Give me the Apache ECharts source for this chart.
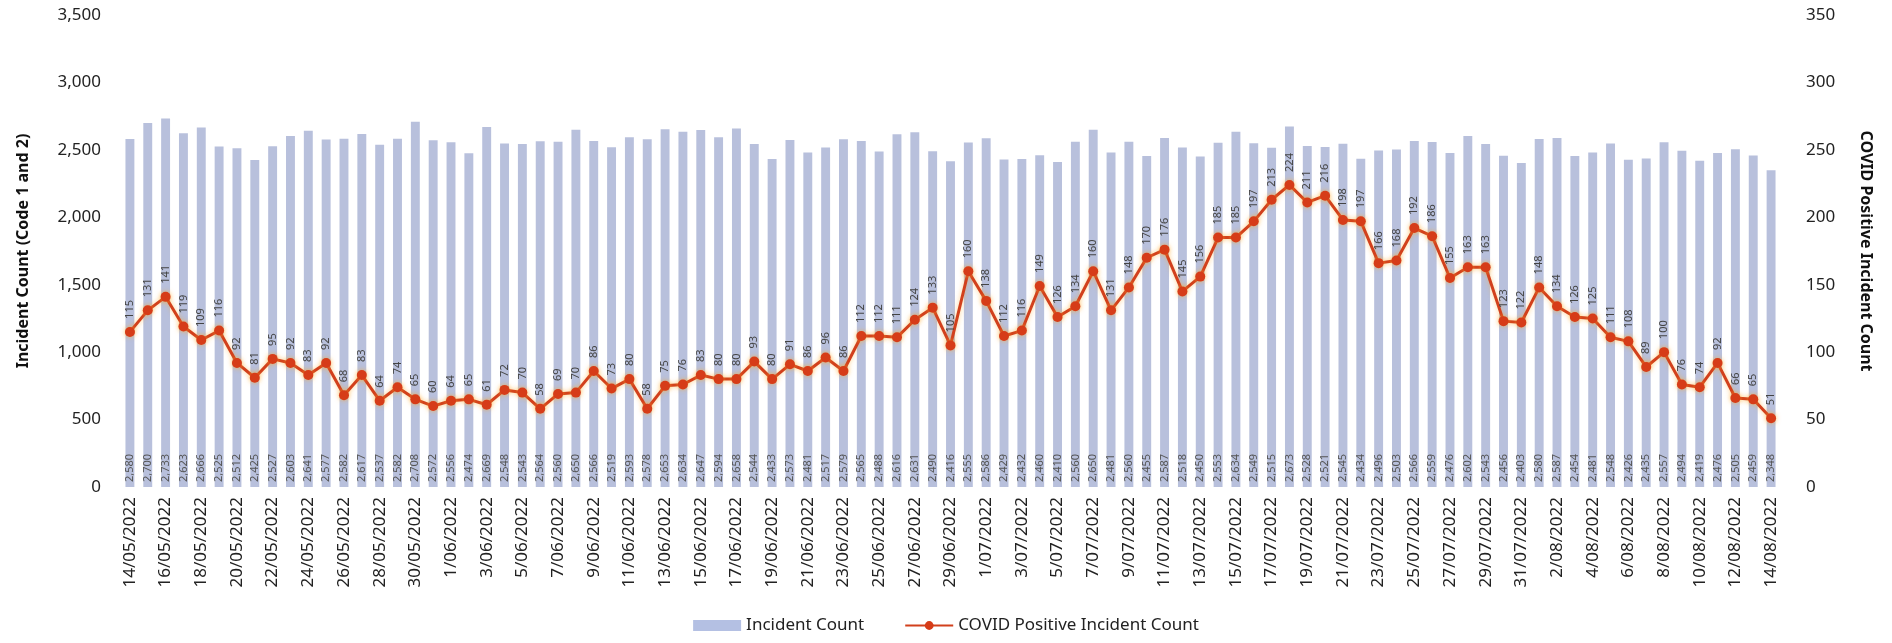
<!DOCTYPE html>
<html>
<head>
<meta charset="utf-8">
<title>Incident Count</title>
<script src="https://cdn.jsdelivr.net/npm/echarts@6/dist/echarts.min.js"></script>
<style>
    html, body { margin: 0; padding: 0; background: #fff; }
    #main { width: 1892px; height: 643px; }
</style>
</head>
<body>
<div id="main"></div>
<script>
// 日期 14/05/2022 - 14/08/2022
var dates = [
    '14/05/2022','15/05/2022','16/05/2022','17/05/2022','18/05/2022','19/05/2022','20/05/2022','21/05/2022','22/05/2022','23/05/2022',
    '24/05/2022','25/05/2022','26/05/2022','27/05/2022','28/05/2022','29/05/2022','30/05/2022','31/05/2022',
    '1/06/2022','2/06/2022','3/06/2022','4/06/2022','5/06/2022','6/06/2022','7/06/2022','8/06/2022','9/06/2022','10/06/2022',
    '11/06/2022','12/06/2022','13/06/2022','14/06/2022','15/06/2022','16/06/2022','17/06/2022','18/06/2022','19/06/2022','20/06/2022',
    '21/06/2022','22/06/2022','23/06/2022','24/06/2022','25/06/2022','26/06/2022','27/06/2022','28/06/2022','29/06/2022','30/06/2022',
    '1/07/2022','2/07/2022','3/07/2022','4/07/2022','5/07/2022','6/07/2022','7/07/2022','8/07/2022','9/07/2022','10/07/2022',
    '11/07/2022','12/07/2022','13/07/2022','14/07/2022','15/07/2022','16/07/2022','17/07/2022','18/07/2022','19/07/2022','20/07/2022',
    '21/07/2022','22/07/2022','23/07/2022','24/07/2022','25/07/2022','26/07/2022','27/07/2022','28/07/2022','29/07/2022','30/07/2022',
    '31/07/2022','1/08/2022','2/08/2022','3/08/2022','4/08/2022','5/08/2022','6/08/2022','7/08/2022','8/08/2022','9/08/2022',
    '10/08/2022','11/08/2022','12/08/2022','13/08/2022','14/08/2022'
];

// Incident Count (Code 1 and 2)
var incidentCount = [
    2580, 2700, 2733, 2623, 2666, 2525, 2512, 2425, 2527, 2603,
    2641, 2577, 2582, 2617, 2537, 2582, 2708, 2572, 2556, 2474,
    2669, 2548, 2543, 2564, 2560, 2650, 2566, 2519, 2593, 2578,
    2653, 2634, 2647, 2594, 2658, 2544, 2433, 2573, 2481, 2517,
    2579, 2565, 2488, 2616, 2631, 2490, 2416, 2555, 2586, 2429,
    2432, 2460, 2410, 2560, 2650, 2481, 2560, 2455, 2587, 2518,
    2450, 2553, 2634, 2549, 2515, 2673, 2528, 2521, 2545, 2434,
    2496, 2503, 2566, 2559, 2476, 2602, 2543, 2456, 2403, 2580,
    2587, 2454, 2481, 2548, 2426, 2435, 2557, 2494, 2419, 2476,
    2505, 2459, 2348
];

// COVID Positive Incident Count
var covidCount = [
    115, 131, 141, 119, 109, 116, 92, 81, 95, 92,
    83, 92, 68, 83, 64, 74, 65, 60, 64, 65,
    61, 72, 70, 58, 69, 70, 86, 73, 80, 58,
    75, 76, 83, 80, 80, 93, 80, 91, 86, 96,
    86, 112, 112, 111, 124, 133, 105, 160, 138, 112,
    116, 149, 126, 134, 160, 131, 148, 170, 176, 145,
    156, 185, 185, 197, 213, 224, 211, 216, 198, 197,
    166, 168, 192, 186, 155, 163, 163, 123, 122, 148,
    134, 126, 125, 111, 108, 89, 100, 76, 74, 92,
    66, 65, 51
];

var font = 'Noto Sans';

function fmt(v){
    return String(v).replace(/\B(?=(\d{3})+(?!\d))/g, ',');
}

var myChart = echarts.init(document.getElementById('main'), null, {renderer: 'canvas'});

myChart.setOption({
    animation: false,
    backgroundColor: '#fff',
    textStyle: { fontFamily: font },
    grid: {
        left: 121,
        right: 112,
        top: 15,
        bottom: 156
    },
    legend: {
        bottom: 4,
        left: 'center',
        itemGap: 40,
        textStyle: { fontSize: 17, color: '#222', fontFamily: font },
        data: [
            { name: 'Incident Count', icon: 'rect', itemStyle: { color: '#b4c0e3' } },
            { name: 'COVID Positive Incident Count' }
        ],
        itemWidth: 48,
        itemHeight: 11
    },
    xAxis: {
        type: 'category',
        data: dates,
        boundaryGap: true,
        axisLine: { show: false },
        axisTick: { show: false },
        axisLabel: {
            interval: 1,
            rotate: 90,
            fontSize: 17,
            color: '#222',
            margin: 10
        }
    },
    yAxis: [
        {
            type: 'value',
            min: 0,
            max: 3500,
            interval: 500,
            name: 'Incident Count (Code 1 and 2)',
            nameLocation: 'middle',
            nameGap: 90,
            nameTextStyle: { fontSize: 16, fontWeight: 'bold', color: '#111' },
            splitLine: { show: false },
            axisLine: { show: false },
            axisTick: { show: false },
            axisLabel: {
                fontSize: 17,
                color: '#222',
                margin: 20,
                formatter: function (v) { return fmt(v); }
            }
        },
        {
            type: 'value',
            min: 0,
            max: 350,
            interval: 50,
            name: 'COVID Positive Incident Count',
            nameLocation: 'middle',
            nameGap: 78,
            nameRotate: -90,
            nameTextStyle: { fontSize: 16, fontWeight: 'bold', color: '#111' },
            splitLine: { show: false },
            axisLine: { show: false },
            axisTick: { show: false },
            axisLabel: {
                fontSize: 17,
                color: '#222',
                margin: 26
            }
        }
    ],
    series: [
        {
            name: 'Incident Count',
            type: 'bar',
            yAxisIndex: 0,
            barWidth: '50%',
            data: incidentCount,
            itemStyle: { color: '#b8c0dc' },
            label: {
                show: true,
                position: 'insideBottom',
                rotate: 90,
                align: 'left',
                verticalAlign: 'middle',
                distance: 5,
                fontSize: 11,
                color: '#555',
                formatter: function (p) { return fmt(p.value); }
            }
        },
        {
            name: 'COVID Positive Incident Count',
            type: 'line',
            yAxisIndex: 1,
            data: covidCount,
            symbol: 'circle',
            symbolSize: 10,
            z: 5,
            lineStyle: {
                color: '#d2401c',
                width: 3,
                shadowColor: 'rgba(255,170,40,0.55)',
                shadowBlur: 5
            },
            itemStyle: {
                color: '#d63c18',
                shadowColor: 'rgba(255,170,40,0.7)',
                shadowBlur: 5
            },
            label: {
                show: true,
                position: 'top',
                rotate: 90,
                align: 'left',
                verticalAlign: 'middle',
                distance: 8,
                fontSize: 11,
                color: '#444'
            }
        }
    ]
});

window.addEventListener("resize", function () {
    myChart.resize();
});
</script>
</body>
</html>
